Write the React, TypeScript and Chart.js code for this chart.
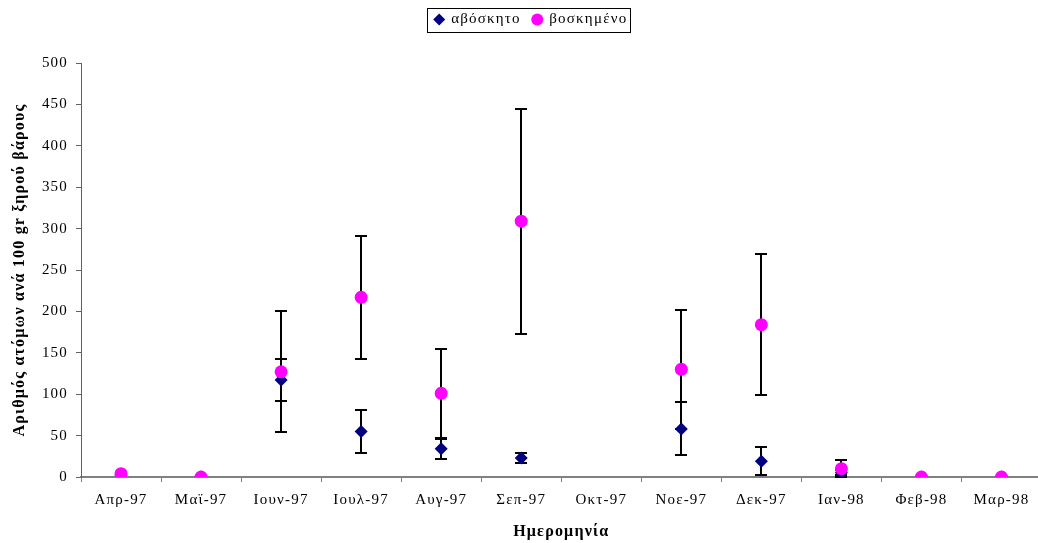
import React, { useEffect, useRef } from "react";
import { Chart, registerables } from "chart.js";

Chart.register(...registerables);

const categories = ["Απρ-97", "Μαϊ-97", "Ιουν-97", "Ιουλ-97", "Αυγ-97", "Σεπ-97", "Οκτ-97", "Νοε-97", "Δεκ-97", "Ιαν-98", "Φεβ-98", "Μαρ-98"];
const ungrazed = [2, 0, 117, 55, 34, 23, null, 58, 19, 5, 0, 0];
const ungrazedErr = [0, 0, 25, 26, 12, 6, null, 32, 17, 3, 0, 0];
const grazed = [4, 0, 127, 217, 101, 309, null, 130, 184, 10, 0, 0];
const grazedErr = [0, 0, 73, 74, 54, 136, null, 72, 85, 10, 0, 0];
const yTicks = [0, 50, 100, 150, 200, 250, 300, 350, 400, 450, 500];

const FONT = '"Liberation Serif", "Times New Roman", serif';
const SPACING = "1.2px";

const spacingPlugin = {
  id: "letterSpacing",
  beforeInit(chart: any) {
    chart.ctx.letterSpacing = SPACING;
  },
  beforeUpdate(chart: any) {
    chart.ctx.letterSpacing = SPACING;
  },
  beforeLayout(chart: any) {
    chart.ctx.letterSpacing = SPACING;
    const lg = chart.legend;
    if (lg && !lg.__patched) {
      const orig = lg.fit;
      lg.fit = function () {
        orig.call(this);
        this.height = 63;
      };
      lg.__patched = true;
    }
  },
  afterLayout(chart: any) {
    const lg = chart.legend;
    if (lg) {
      lg.left += 7;
      lg.right += 7;
    }
  },
  beforeDraw(chart: any) {
    chart.ctx.letterSpacing = SPACING;
  },
};

const errorBarPlugin = {
  id: "errorBars",
  beforeDatasetsDraw(chart: any) {
    const { ctx, scales } = chart;
    const x = scales.x;
    const y = scales.y;
    chart.data.datasets.forEach((ds: any) => {
      const errs: (number | null)[] = ds.errors || [];
      ds.data.forEach((v: number | null, i: number) => {
        const e = errs[i];
        if (v == null || e == null || e <= 0) return;
        const px = Math.round(x.getPixelForValue(i));
        const top = Math.round(y.getPixelForValue(v + e));
        const bot = Math.round(y.getPixelForValue(v - e));
        ctx.save();
        ctx.strokeStyle = "#000000";
        ctx.lineWidth = 2;
        ctx.beginPath();
        ctx.moveTo(px, top);
        ctx.lineTo(px, bot);
        ctx.moveTo(px - 6, top);
        ctx.lineTo(px + 6, top);
        ctx.moveTo(px - 6, bot);
        ctx.lineTo(px + 6, bot);
        ctx.stroke();
        ctx.restore();
      });
    });
  },
  afterDraw(chart: any) {
    const lg = chart.legend;
    if (!lg || !lg.legendHitBoxes || !lg.legendHitBoxes.length) return;
    const boxes = lg.legendHitBoxes;
    const first = boxes[0];
    const last = boxes[boxes.length - 1];
    const ctx = chart.ctx;
    const l = first.left - 8;
    const r = last.left + last.width + 2;
    const cy = first.top + first.height / 2;
    const t = cy - 12;
    const b = cy + 12;
    ctx.save();
    ctx.strokeStyle = "#000000";
    ctx.lineWidth = 1;
    ctx.strokeRect(Math.round(l) + 0.5, Math.round(t) + 0.5, Math.round(r - l), Math.round(b - t));
    ctx.restore();
  },
};

export default function App() {
  const ref = useRef<HTMLCanvasElement | null>(null);
  useEffect(() => {
    document.body.style.margin = "0";
    document.body.style.overflow = "hidden";
    const canvas = ref.current!;
    const chart = new Chart(canvas, {
      type: "line",
      data: {
        labels: categories,
        datasets: [
          {
            label: "αβόσκητο",
            data: ungrazed,
            errors: ungrazedErr,
            showLine: false,
            pointStyle: "rectRot",
            pointRadius: 6.5,
            pointHoverRadius: 6.5,
            backgroundColor: "#000080",
            borderColor: "#000080",
            pointBorderWidth: 0,
            order: 1,
          } as any,
          {
            label: "βοσκημένο",
            data: grazed,
            errors: grazedErr,
            showLine: false,
            pointStyle: "circle",
            pointRadius: 6.5,
            pointHoverRadius: 6.5,
            backgroundColor: "#FF00FF",
            borderColor: "#FF00FF",
            pointBorderWidth: 0,
            order: 0,
          } as any,
        ],
      },
      options: {
        animation: false,
        responsive: false,
        devicePixelRatio: 1,
        layout: { padding: { top: 0, left: 0, right: 0, bottom: 0 } },
        plugins: {
          tooltip: { enabled: false },
          legend: {
            position: "top",
            labels: {
              usePointStyle: true,
              boxWidth: 9,
              boxHeight: 8.5,
              padding: 12,
              color: "#000000",
              font: { family: FONT, size: 15 },
              sort: (a: any, b: any) => a.datasetIndex - b.datasetIndex,
            },
          },
        },
        scales: {
          x: {
            type: "category",
            offset: true,
            afterFit(scale: any) {
              scale.height = 66;
            },
            grid: {
              display: true,
              offset: true,
              drawOnChartArea: false,
              drawTicks: true,
              tickLength: 5,
              color: "#808080",
            },
            border: { display: true, color: "#808080", width: 2 },
            ticks: {
              color: "#000000",
              font: { family: FONT, size: 15 },
              padding: 9,
              maxRotation: 0,
              autoSkip: false,
            },
            title: {
              display: true,
              text: "Ημερομηνία",
              color: "#000000",
              font: { family: FONT, size: 16, weight: "bold" },
              padding: { top: 0, bottom: 2 },
            },
          },
          y: {
            min: 0,
            max: 500,
            afterFit(scale: any) {
              scale.width = 81;
            },
            afterBuildTicks(scale: any) {
              scale.ticks = yTicks.map((v) => ({ value: v }));
            },
            grid: {
              display: true,
              drawOnChartArea: false,
              drawTicks: true,
              tickLength: 5,
              color: "#606060",
            },
            border: { display: true, color: "#606060", width: 1 },
            ticks: {
              color: "#000000",
              font: { family: FONT, size: 15 },
              padding: 8,
            },
            title: {
              display: true,
              text: "Αριθμός ατόμων ανά 100 gr ξηρού βάρους",
              color: "#000000",
              font: { family: FONT, size: 16, weight: "bold" },
              padding: { top: 10, bottom: 0 },
            },
          },
        },
      } as any,
      plugins: [spacingPlugin, errorBarPlugin],
    });
    return () => chart.destroy();
  }, []);
  return (
    <div style={{ position: "fixed", left: 0, top: 0, width: 1048, height: 543 }}>
      <canvas ref={ref} width={1048} height={543} style={{ display: "block" }} />
    </div>
  );
}
